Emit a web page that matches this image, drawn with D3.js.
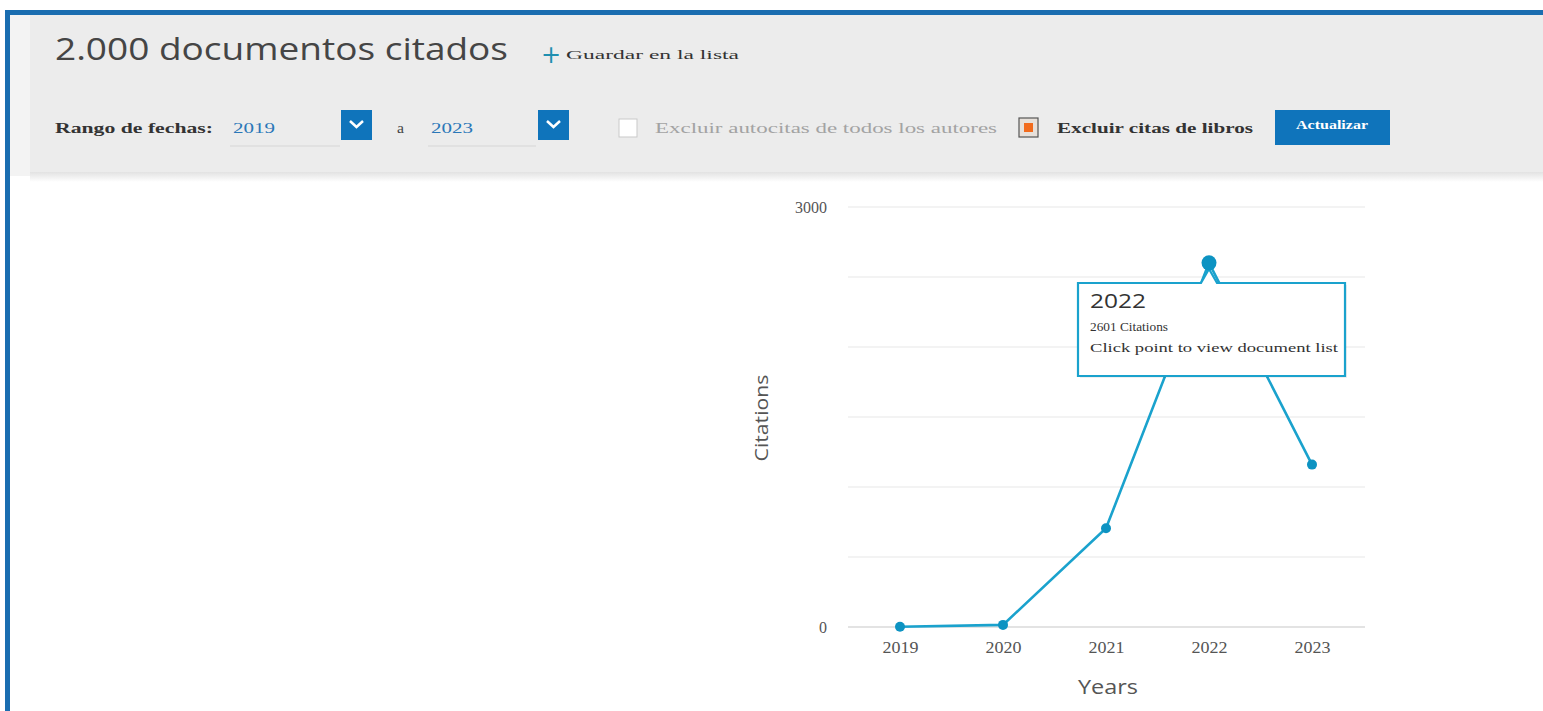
<!DOCTYPE html>
<html><head><meta charset="utf-8">
<script src="https://cdn.jsdelivr.net/npm/d3@7/dist/d3.min.js"></script>
<style>
html,body{margin:0;padding:0;background:#fff;overflow:hidden}
svg{display:block}
</style></head>
<body>
<svg id="c" width="1543" height="711"></svg>
<script>
const years = ["2019","2020","2021","2022","2023"];
const citations = [2, 15, 705, 2601, 1160];
const yTickLabels = [0, 3000];
const gridTicks = [0, 500, 1000, 1500, 2000, 2500, 3000];
const highlightYear = "2022";
const titleText = "2.000 documentos citados";
const saveText = "Guardar en la lista";
const rangeFrom = "2019", rangeTo = "2023";

const svg = d3.select("#c");
const W = 1543, H = 711;
const blue = "#1a6db0";
const lineCol = "#1aa2cd";
const ptCol = "#0d93c2";

svg.append("rect").attr("width",W).attr("height",H).attr("fill","#fff");
const defs = svg.append("defs");
const g1 = defs.append("linearGradient").attr("id","sh").attr("x1",0).attr("x2",0).attr("y1",0).attr("y2",1);
g1.append("stop").attr("offset",0).attr("stop-color","#e2e2e2");
g1.append("stop").attr("offset",1).attr("stop-color","#ffffff");
svg.append("rect").attr("x",10).attr("y",14).attr("width",W).attr("height",162).attr("fill","#f3f3f3");
svg.append("rect").attr("x",30).attr("y",14).attr("width",W).attr("height",160).attr("fill","#ececec");
svg.append("rect").attr("x",30).attr("y",172).attr("width",W).attr("height",10).attr("fill","url(#sh)");
svg.append("rect").attr("x",5).attr("y",10).attr("width",W).attr("height",5).attr("fill",blue);
svg.append("rect").attr("x",5).attr("y",10).attr("width",5).attr("height",H).attr("fill",blue);

svg.append("text").attr("x",55).attr("y",60).text(titleText)
  .attr("font-family","Open Sans").attr("font-size",31).attr("fill","#454545")
  .attr("textLength",453).attr("lengthAdjust","spacingAndGlyphs");
svg.append("text").attr("x",541).attr("y",63).text("+")
  .attr("font-family","DejaVu Sans").attr("font-size",24).attr("fill","#1f8fb0");
svg.append("text").attr("x",566).attr("y",59).text(saveText)
  .attr("font-family","Liberation Serif").attr("font-size",13).attr("fill","#333")
  .attr("textLength",173).attr("lengthAdjust","spacingAndGlyphs");

const rowY = 133;
function t(x,y,s,opts){
  const e = svg.append("text").attr("x",x).attr("y",y).text(s)
   .attr("font-family",opts.ff||"Liberation Serif").attr("font-size",opts.fs||14)
   .attr("fill",opts.fill||"#333").attr("font-weight",opts.fw||"normal");
  if(opts.w) e.attr("textLength",opts.w).attr("lengthAdjust","spacingAndGlyphs");
  if(opts.anchor) e.attr("text-anchor",opts.anchor);
  return e;
}
t(55,rowY,"Rango de fechas:",{fs:14,w:158,fill:"#333",fw:"600"});
t(233,rowY,rangeFrom,{fs:14,w:42,fill:"#2a77b8"});
svg.append("line").attr("x1",230).attr("x2",340).attr("y1",146).attr("y2",146).attr("stroke","#d6d6d6");
function dd(x){
  svg.append("rect").attr("x",x).attr("y",110).attr("width",31).attr("height",30).attr("fill","#0f74bb");
  svg.append("path").attr("d",`M${x+9},${121} L${x+15.5},${127} L${x+22},${121}`).attr("fill","none").attr("stroke","#fff").attr("stroke-width",2.5);
}
dd(341);
t(397,rowY,"a",{fs:14,w:7,fill:"#444"});
t(431,rowY,rangeTo,{fs:14,w:42,fill:"#2a77b8"});
svg.append("line").attr("x1",428).attr("x2",536).attr("y1",146).attr("y2",146).attr("stroke","#d6d6d6");
dd(538);
svg.append("rect").attr("x",619).attr("y",119).attr("width",18).attr("height",18).attr("fill","#fff").attr("stroke","#c9c9c9");
t(655,rowY,"Excluir autocitas de todos los autores",{fs:14,w:342,fill:"#a3a3a3"});
svg.append("rect").attr("x",1019).attr("y",118).attr("width",19).attr("height",19).attr("fill","#e7e0da").attr("stroke","#555").attr("stroke-width",1.2);
svg.append("rect").attr("x",1024).attr("y",123).attr("width",9).attr("height",9).attr("fill","#f26b1d");
t(1057,rowY,"Excluir citas de libros",{fs:14,w:196,fill:"#333",fw:"600"});
svg.append("rect").attr("x",1275).attr("y",110).attr("width",115).attr("height",35).attr("fill","#0f74bb");
t(1332,rowY-4,"Actualizar",{fs:13,w:72,fill:"#fff",fw:"bold",anchor:"middle"});

// chart
const y = d3.scaleLinear().domain([0,3000]).range([627,207]);
const x = d3.scalePoint().domain(years).range([900,1312]);
const gx0 = 848, gx1 = 1365;

svg.append("g").selectAll("line").data(gridTicks).join("line")
  .attr("x1",gx0).attr("x2",gx1).attr("y1",d=>y(d)).attr("y2",d=>y(d))
  .attr("stroke",d=>d===0?"#e3e3e3":"#efefef").attr("stroke-width",d=>d===0?2:1.5);

const yAxis = svg.append("g").attr("transform",`translate(${gx0},0)`)
  .call(d3.axisLeft(y).tickValues(yTickLabels).tickFormat(d3.format("d")).tickSize(0).tickPadding(21));
yAxis.select(".domain").remove();
yAxis.selectAll("text").attr("font-family","Liberation Serif").attr("font-size",16).attr("fill","#555");

const xAxis = svg.append("g").attr("transform",`translate(0,${627})`)
  .call(d3.axisBottom(x).tickSize(0).tickPadding(15));
xAxis.select(".domain").remove();
xAxis.selectAll("text").attr("font-family","Liberation Serif").attr("font-size",16).attr("fill","#555")
  .attr("textLength",36).attr("lengthAdjust","spacingAndGlyphs");

svg.append("text").attr("x",1108).attr("y",694).attr("text-anchor","middle").text("Years")
  .attr("font-family","Open Sans").attr("font-size",20).attr("fill","#555")
  .attr("textLength",60).attr("lengthAdjust","spacingAndGlyphs");
svg.append("text").attr("transform",`translate(768,418) rotate(-90)`).attr("text-anchor","middle").text("Citations")
  .attr("font-family","Open Sans").attr("font-size",19).attr("fill","#555")
  .attr("textLength",87).attr("lengthAdjust","spacingAndGlyphs");

const data = years.map((yr,i)=>({yr, v:citations[i]}));
svg.append("path").datum(data)
  .attr("d", d3.line().x(d=>x(d.yr)).y(d=>y(d.v)))
  .attr("fill","none").attr("stroke",lineCol).attr("stroke-width",2.6);

// tooltip
const hd = data.find(d=>d.yr===highlightYear);
const hx = x(hd.yr), hy = y(hd.v);
const bx0 = 1078, bx1 = 1345, by0 = 283, by1 = 376;
const tip = svg.append("g");
tip.append("rect").attr("x",bx0+2).attr("y",by0+2).attr("width",bx1-bx0).attr("height",by1-by0).attr("fill","#000").attr("opacity",0.06);
tip.append("path")
  .attr("d",`M${bx0},${by0} L${hx-8},${by0} L${hx},${hy+6} L${hx+8},${by0} L${bx1},${by0} L${bx1},${by1} L${bx0},${by1} Z`)
  .attr("fill","#fff").attr("stroke",lineCol).attr("stroke-width",2.2);
tip.append("text").attr("x",1090).attr("y",308).text(hd.yr)
  .attr("font-family","Open Sans").attr("font-size",20).attr("fill","#333")
  .attr("textLength",56).attr("lengthAdjust","spacingAndGlyphs");
tip.append("text").attr("x",1090).attr("y",331).text(hd.v + " Citations")
  .attr("font-family","Liberation Serif").attr("font-size",12).attr("fill","#333")
  .attr("textLength",78).attr("lengthAdjust","spacingAndGlyphs");
tip.append("text").attr("x",1090).attr("y",352).text("Click point to view document list")
  .attr("font-family","Liberation Serif").attr("font-size",12).attr("fill","#333")
  .attr("textLength",248).attr("lengthAdjust","spacingAndGlyphs");

svg.append("g").selectAll("circle").data(data).join("circle")
  .attr("cx",d=>x(d.yr)).attr("cy",d=>y(d.v))
  .attr("r",d=>d.yr===highlightYear?7.5:5)
  .attr("fill",ptCol);
</script>
</body></html>
